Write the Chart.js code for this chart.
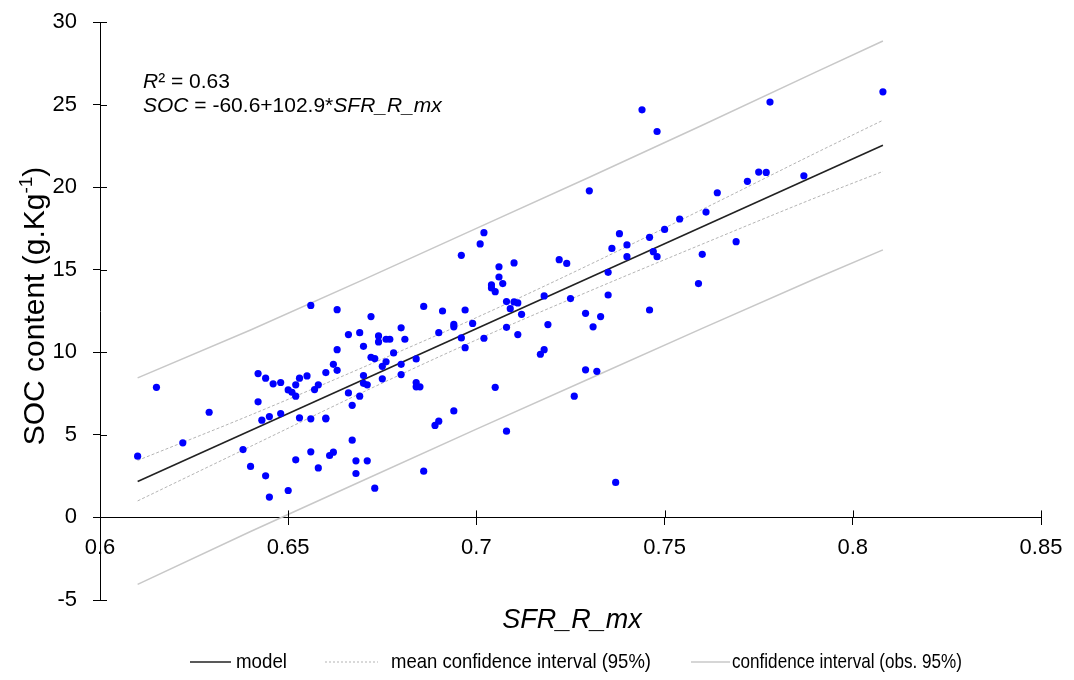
<!DOCTYPE html>
<html>
<head>
<meta charset="utf-8">
<script src="https://cdn.jsdelivr.net/npm/chart.js@4.4.1/dist/chart.umd.min.js"></script>
<style>
  html, body { margin: 0; padding: 0; background: #fff; }
  #grafico { display: block; }
</style>
</head>
<body>
<canvas id="grafico" width="1074" height="680"></canvas>
<script>
// observaciones: SFR_R_mx (x) y SOC (y)
const sfr = [
  0.610, 0.615, 0.622, 0.629, 0.638, 0.640, 0.642, 0.642, 0.644, 0.643,
  0.645, 0.644, 0.645, 0.646, 0.648, 0.648, 0.650, 0.651, 0.652, 0.652,
  0.653, 0.650, 0.652, 0.653, 0.655, 0.656, 0.656, 0.656, 0.657, 0.658,
  0.658, 0.660, 0.660, 0.660, 0.661, 0.662, 0.663, 0.663, 0.662, 0.663,
  0.666, 0.666, 0.667, 0.667, 0.668, 0.668, 0.669, 0.670, 0.670, 0.670,
  0.671, 0.669, 0.671, 0.672, 0.672, 0.673, 0.673, 0.674, 0.674, 0.675,
  0.676, 0.675, 0.676, 0.677, 0.678, 0.680, 0.681, 0.680, 0.680, 0.684,
  0.684, 0.684, 0.685, 0.686, 0.686, 0.689, 0.690, 0.690, 0.691, 0.694,
  0.694, 0.694, 0.696, 0.696, 0.697, 0.697, 0.699, 0.701, 0.702, 0.702,
  0.704, 0.704, 0.705, 0.706, 0.706, 0.707, 0.705, 0.708, 0.709, 0.708,
  0.710, 0.710, 0.711, 0.712, 0.711, 0.708, 0.744, 0.748, 0.730, 0.722,
  0.724, 0.738, 0.736, 0.740, 0.740, 0.735, 0.746, 0.747, 0.748, 0.750,
  0.754, 0.761, 0.764, 0.772, 0.775, 0.777, 0.769, 0.760, 0.759, 0.746,
  0.718, 0.725, 0.735, 0.719, 0.729, 0.733, 0.731, 0.718, 0.717, 0.729,
  0.732, 0.726, 0.737, 0.778, 0.808, 0.787
];
const soc = [
  3.71, 7.88, 4.52, 6.37, 4.11, 3.09, 7.00, 8.71, 8.43, 5.89,
  6.11, 2.52, 1.23, 8.09, 8.17, 6.29, 7.72, 7.58, 8.03, 7.34,
  8.43, 1.63, 3.49, 6.03, 8.57, 3.97, 5.97, 12.84, 7.74, 8.03,
  3.00, 8.77, 6.01, 5.97, 3.75, 3.95, 12.58, 10.16, 9.27, 8.91,
  11.07, 7.54, 6.79, 4.68, 3.43, 2.66, 11.19, 10.36, 8.59, 8.12,
  8.03, 7.34, 3.43, 12.16, 9.70, 9.62, 1.77, 10.99, 10.63, 9.15,
  9.42, 8.39, 10.79, 10.79, 9.96, 11.48, 10.79, 9.27, 8.65, 9.60,
  8.17, 7.91, 7.91, 12.78, 2.80, 5.57, 5.83, 11.19, 12.50, 11.69,
  11.54, 6.45, 15.87, 10.87, 12.56, 10.28, 11.75, 16.56, 17.24, 10.85,
  13.90, 14.08, 13.67, 14.56, 15.18, 14.16, 7.88, 13.07, 12.64, 11.51,
  15.41, 13.05, 12.99, 12.30, 11.07, 5.22, 24.68, 23.37, 19.78, 15.61,
  15.38, 17.18, 16.29, 16.50, 15.79, 14.84, 16.96, 16.09, 15.79, 17.44,
  18.07, 18.49, 19.66, 20.35, 20.91, 20.89, 16.70, 15.93, 14.16, 12.56,
  13.41, 13.25, 13.47, 11.68, 12.36, 12.16, 11.54, 10.16, 9.88, 8.94,
  8.85, 7.34, 2.12, 25.15, 25.77, 20.69
];

// recta del modelo (extremos)
const modeloX = [0.610, 0.808];
const modeloY = [2.17, 22.54];

// bandas de confianza
const bandaX = [0.610, 0.640, 0.670, 0.700, 0.730, 0.760, 0.790, 0.808];
const mediaSup = [3.45, 6.20, 9.10, 12.10, 15.30, 18.65, 22.05, 24.05];
const mediaInf = [1.00, 4.30, 7.60, 10.75, 13.70, 16.55, 19.35, 20.95];
const obsSup = [8.45, 11.35, 14.40, 17.50, 20.60, 23.75, 26.95, 28.85];
const obsInf = [-4.05, -0.85, 2.25, 5.35, 8.40, 11.45, 14.45, 16.20];

const ticksX = [0.6, 0.65, 0.7, 0.75, 0.8, 0.85];
const ticksY = [-5, 0, 5, 10, 15, 20, 25, 30];

const fuente = '"Liberation Sans", Arial, sans-serif';
const fuenteEstrecha = '"Liberation Sans Narrow", "Arial Narrow", "Liberation Sans", sans-serif';

const puntos = (xs, ys) => xs.map((x, i) => ({ x: x, y: ys[i] }));

// textos, ticks internos y leyenda
const extras = {
  id: 'extras',
  afterDraw(chart) {
    const { ctx, scales: { x, y }, chartArea } = chart;
    ctx.save();
    ctx.strokeStyle = '#000';
    ctx.lineWidth = 1;
    const y0 = y.getPixelForValue(0);
    ticksX.forEach(v => {
      const px = Math.round(x.getPixelForValue(v)) + 0.5;
      ctx.beginPath(); ctx.moveTo(px, y0); ctx.lineTo(px, y0 - 7); ctx.stroke();
    });
    ticksY.forEach(v => {
      const py = Math.round(y.getPixelForValue(v)) + 0.5;
      ctx.beginPath(); ctx.moveTo(chartArea.left, py); ctx.lineTo(chartArea.left + 7, py); ctx.stroke();
    });

    ctx.fillStyle = '#000';
    ctx.textBaseline = 'alphabetic';
    ctx.textAlign = 'left';

    // R² y ecuación
    let cx = 143;
    ctx.font = 'italic 21px ' + fuente;
    ctx.fillText('R', cx, 88);
    cx += ctx.measureText('R').width;
    ctx.font = '21px ' + fuente;
    ctx.fillText('² = 0.63', cx, 88);

    cx = 143;
    ctx.font = 'italic 21px ' + fuente;
    ctx.fillText('SOC', cx, 112);
    cx += ctx.measureText('SOC').width;
    ctx.font = '21px ' + fuente;
    ctx.fillText(' = -60.6+102.9*', cx, 112);
    cx += ctx.measureText(' = -60.6+102.9*').width;
    ctx.font = 'italic 21px ' + fuente;
    ctx.fillText('SFR_R_mx', cx, 112);

    // título eje X
    ctx.font = 'italic 27px ' + fuente;
    ctx.textAlign = 'center';
    ctx.textBaseline = 'middle';
    ctx.fillText('SFR_R_mx', 572, 620);

    // título eje Y con superíndice
    ctx.save();
    ctx.translate(33, 306);
    ctx.rotate(-Math.PI / 2);
    ctx.textAlign = 'left';
    ctx.textBaseline = 'alphabetic';
    const t1 = 'SOC content (g.Kg';
    const sup = '-1';
    const t2 = ')';
    ctx.font = '30px ' + fuente;
    const w1 = ctx.measureText(t1).width;
    const w3 = ctx.measureText(t2).width;
    ctx.font = '19px ' + fuente;
    const w2 = ctx.measureText(sup).width;
    let sx = -(w1 + w2 + w3) / 2;
    ctx.font = '30px ' + fuente;
    ctx.fillText(t1, sx, 11);
    sx += w1;
    ctx.font = '19px ' + fuente;
    ctx.fillText(sup, sx, -1);
    sx += w2;
    ctx.font = '30px ' + fuente;
    ctx.fillText(t2, sx, 11);
    ctx.restore();

    // leyenda
    const ly = 662;
    ctx.textAlign = 'left';
    ctx.textBaseline = 'middle';
    ctx.font = '21px ' + fuenteEstrecha;

    ctx.strokeStyle = '#222'; ctx.lineWidth = 1.5; ctx.setLineDash([]);
    ctx.beginPath(); ctx.moveTo(190, ly); ctx.lineTo(231, ly); ctx.stroke();
    ctx.fillText('model', 236, ly, 51);

    ctx.strokeStyle = '#b4b4b4'; ctx.lineWidth = 1; ctx.setLineDash([2, 2]);
    ctx.beginPath(); ctx.moveTo(325, ly); ctx.lineTo(378, ly); ctx.stroke();
    ctx.fillText('mean confidence interval (95%)', 391, ly, 260);

    ctx.strokeStyle = '#c8c8c8'; ctx.lineWidth = 1.5; ctx.setLineDash([]);
    ctx.beginPath(); ctx.moveTo(691, ly); ctx.lineTo(730, ly); ctx.stroke();
    ctx.fillText('confidence interval (obs. 95%)', 732, ly, 230);

    ctx.restore();
  }
};

const ctx = document.getElementById('grafico').getContext('2d');

const chart = new Chart(ctx, {
  type: 'scatter',
  data: {
    datasets: [
      {
        label: 'observations',
        data: puntos(sfr, soc),
        backgroundColor: '#0000ff',
        borderWidth: 0,
        pointRadius: 3.6,
        order: 0
      },
      {
        label: 'model',
        data: puntos(modeloX, modeloY),
        showLine: true,
        borderColor: '#222',
        borderWidth: 1.6,
        pointRadius: 0,
        order: 1
      },
      {
        label: 'mean CI upper',
        data: puntos(bandaX, mediaSup),
        showLine: true,
        borderColor: '#b4b4b4',
        borderWidth: 1,
        borderDash: [3, 2],
        pointRadius: 0,
        cubicInterpolationMode: 'monotone',
        order: 2
      },
      {
        label: 'mean CI lower',
        data: puntos(bandaX, mediaInf),
        showLine: true,
        borderColor: '#b4b4b4',
        borderWidth: 1,
        borderDash: [3, 2],
        pointRadius: 0,
        cubicInterpolationMode: 'monotone',
        order: 2
      },
      {
        label: 'obs CI upper',
        data: puntos(bandaX, obsSup),
        showLine: true,
        borderColor: '#c8c8c8',
        borderWidth: 1.5,
        pointRadius: 0,
        order: 3
      },
      {
        label: 'obs CI lower',
        data: puntos(bandaX, obsInf),
        showLine: true,
        borderColor: '#c8c8c8',
        borderWidth: 1.5,
        pointRadius: 0,
        order: 3
      }
    ]
  },
  options: {
    responsive: false,
    animation: false,
    layout: { padding: { top: 22, right: 33, bottom: 80, left: 0 } },
    plugins: {
      legend: { display: false },
      tooltip: { enabled: false }
    },
    scales: {
      x: {
        type: 'linear',
        min: 0.6,
        max: 0.85,
        position: { y: 0 },
        afterBuildTicks: s => { s.ticks = ticksX.map(v => ({ value: v })); },
        ticks: {
          color: '#000',
          padding: 10,
          maxRotation: 0,
          font: { family: fuente, size: 22 },
          callback: v => String(Number(v.toFixed(2)))
        },
        grid: { drawOnChartArea: false, color: '#000', tickLength: 7, lineWidth: 1 },
        border: { color: '#000', width: 1 }
      },
      y: {
        min: -5,
        max: 30,
        afterBuildTicks: s => { s.ticks = ticksY.map(v => ({ value: v })); },
        afterFit: s => { s.width = 100; s.paddingTop = 0; s.paddingBottom = 0; },
        ticks: {
          color: '#000',
          padding: 16,
          font: { family: fuente, size: 22 }
        },
        grid: { drawOnChartArea: false, color: '#000', tickLength: 7, lineWidth: 1 },
        border: { color: '#000', width: 1 }
      }
    }
  },
  plugins: [extras]
});
</script>
</body>
</html>
